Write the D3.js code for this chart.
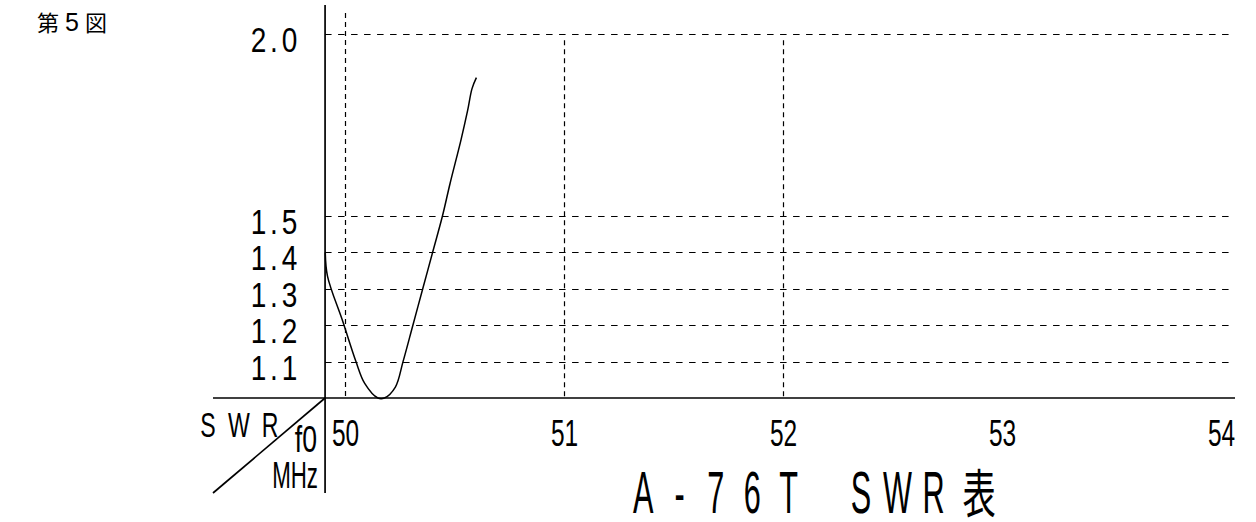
<!DOCTYPE html>
<html>
<head>
<meta charset="utf-8">
<script src="https://cdn.jsdelivr.net/npm/d3@7"></script>
<style>
    body { margin: 0; background: #fff; }
    svg { display: block; background: #fff; }
    text { font-family: "Liberation Sans", Arial, sans-serif; fill: #000; }
    text.cjk { font-family: "Noto Sans CJK JP", sans-serif; }
</style>
</head>
<body>
<svg id="chart" width="1256" height="522"></svg>
<script>
// A-76T SWR chart
const freqs = [49.91, 49.92, 49.99, 50.05, 50.09, 50.15, 50.18, 50.23, 50.265, 50.31, 50.355, 50.40, 50.445, 50.48, 50.53, 50.56, 50.58, 50.60];
const swrValues = [1.40, 1.335, 1.21, 1.10, 1.04, 1.00, 1.00, 1.03, 1.10, 1.20, 1.30, 1.40, 1.50, 1.59, 1.71, 1.79, 1.85, 1.88];
const freqTicks = [50, 51, 52, 53, 54];
const freqGrid = [50, 51, 52];
const swrTicks = [1.1, 1.2, 1.3, 1.4, 1.5, 2.0];
const swrLabels = ["1.1", "1.2", "1.3", "1.4", "1.5", "2.0"];
const titleChars = ["A", "-", "7", "6", "T", " ", "S", "W", "R", "表"];
const cornerChars = ["S", "W", "R"];
const figChars = ["第", "5", "図"];

const svg = d3.select("#chart");

const x = d3.scaleLinear().domain([50, 54]).range([345, 1221]);
const y = d3.scaleLinear().domain([1.0, 2.0]).range([398, 34]);

const xLeft = x(49.909),
    xRight = x(54.064),
    yBase = y(1.0);

// lay characters out in fixed cells, like the typewriter lettering on the original
function cellText(g, chars, cx0, pitch, baseline, size, sx, sxWide) {
    const wide = function (d) { return d.charCodeAt(0) > 255; };
    g.selectAll(null).data(chars).join("text")
        .attr("class", function (d) { return wide(d) ? "cjk" : null; })
        .attr("text-anchor", "middle")
        .attr("font-size", function (d) { return wide(d) ? size * 0.88 : size; })
        .attr("transform", function (d, i) {
            const cx = cx0 + i * pitch + (wide(d) && chars.length > 3 ? pitch * 0.25 : 0);
            return "translate(" + cx + "," + baseline + ") scale(" + (wide(d) ? sxWide : sx) + ",1)";
        })
        .text(function (d) { return d; });
}

// horizontal dashed grid
svg.append("g").selectAll("line").data(swrTicks).join("line")
    .attr("x1", xLeft).attr("x2", xRight)
    .attr("y1", function (d) { return Math.round(y(d)) + 0.5; })
    .attr("y2", function (d) { return Math.round(y(d)) + 0.5; })
    .attr("stroke", "#000").attr("stroke-width", 1.2)
    .attr("stroke-dasharray", "6.5,6.5");

// vertical dashed grid
svg.append("g").selectAll("line").data(freqGrid).join("line")
    .attr("x1", function (d) { return Math.round(x(d)) + 0.5; })
    .attr("x2", function (d) { return Math.round(x(d)) + 0.5; })
    .attr("y1", function (d) { return d === 50 ? y(2.058) : y(1.983); })
    .attr("y2", yBase)
    .attr("stroke", "#000").attr("stroke-width", 1.2)
    .attr("stroke-dasharray", "5,4");

// axes frame
const frame = svg.append("g").attr("stroke", "#000").attr("stroke-width", 1.7);
frame.append("line").attr("x1", xLeft).attr("x2", xLeft).attr("y1", 5).attr("y2", 493);
frame.append("line").attr("x1", 213).attr("x2", xRight).attr("y1", yBase).attr("y2", yBase);
frame.append("line").attr("x1", xLeft).attr("y1", yBase).attr("x2", 213).attr("y2", 493);

// SWR curve
const line = d3.line()
    .x(function (d, i) { return x(freqs[i]); })
    .y(function (d) { return y(d); })
    .curve(d3.curveCatmullRom.alpha(0.5));
svg.append("path").datum(swrValues)
    .attr("d", line)
    .attr("fill", "none")
    .attr("stroke", "#000")
    .attr("stroke-width", 1.5);

// frequency tick labels
const xAxis = svg.append("g")
    .attr("transform", "translate(0," + yBase + ")")
    .call(d3.axisBottom(x).tickValues(freqTicks).tickSize(0).tickPadding(0).tickFormat(d3.format("d")));
xAxis.select(".domain").remove();
xAxis.selectAll("text")
    .attr("y", 48).attr("dy", null)
    .attr("font-size", 36)
    .attr("font-family", "Liberation Sans, Arial, sans-serif")
    .attr("fill", "#000")
    .attr("transform", "scale(0.68,1)");

// SWR tick labels
svg.append("g").selectAll("g").data(swrTicks).join("g")
    .each(function (d, i) {
        cellText(d3.select(this), swrLabels[i].split(""), 258.5, 15.5, y(d) + 18, 35, 0.8, 0.8);
    });

// corner labels
cellText(svg.append("g"), cornerChars, 208, 31, 437, 35, 0.66, 0.66);
svg.append("text").attr("x", 317).attr("y", 452).attr("text-anchor", "end")
    .attr("font-size", 37).attr("transform", "translate(" + (317 - 317 * 0.72) + ",0) scale(0.72,1)")
    .text("f0");
svg.append("text").attr("x", 318).attr("y", 488).attr("text-anchor", "end")
    .attr("font-size", 36).attr("transform", "translate(" + (318 - 318 * 0.62) + ",0) scale(0.62,1)")
    .text("MHz");

// title and figure number
cellText(svg.append("g"), titleChars, 643.3, 36.3, 513, 59, 0.52, 0.64);
cellText(svg.append("g"), figChars, 48, 24, 31, 25, 1, 1);
</script>
</body>
</html>
